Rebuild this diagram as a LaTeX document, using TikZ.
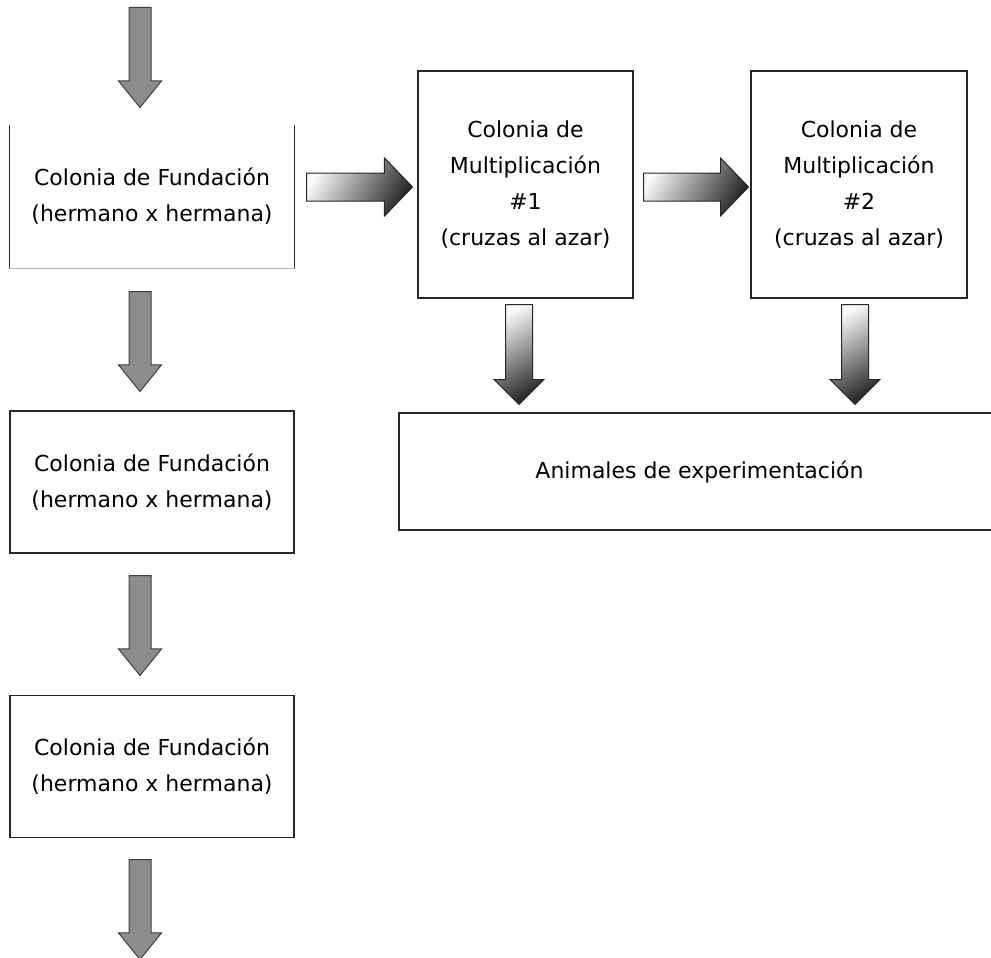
\documentclass[tikz,border=0pt]{standalone}
\usepackage{fontspec}
\setmainfont{DejaVu Sans}
\usetikzlibrary{shapes.arrows, positioning}

\begin{document}
\begin{tikzpicture}[x=1pt, y=-1pt,
  every node/.style={align=center, font=\fontsize{22}{36}\selectfont},
  fundbox/.style={rectangle, draw=black!85, line width=1.3pt,
                  minimum width=284pt, minimum height=142pt, inner sep=0pt},
  multbox/.style={rectangle, draw=black!85, line width=1.3pt,
                  minimum width=215pt, minimum height=227pt, inner sep=0pt},
  grayarr/.style={single arrow, draw=black!75, fill=black!45, line width=1pt,
                  inner sep=10.5pt, minimum height=100pt, minimum width=42pt,
                  single arrow head extend=10.5pt, single arrow tip angle=78,
                  shape border rotate=270, anchor=tail},
  shadearr/.style={single arrow, draw=black!85, line width=1pt, anchor=tail,
                   top color=gray!5, bottom color=black!85},
  rightarr/.style={shadearr, shading angle=60, inner sep=13.5pt, minimum width=57pt,
                   single arrow head extend=15pt, single arrow tip angle=92},
  downarr/.style={shadearr, shading angle=30, inner sep=13pt, minimum height=100pt,
                  minimum width=49pt, single arrow head extend=11.5pt,
                  single arrow tip angle=90, shape border rotate=270}
]
  \useasboundingbox (0,0) rectangle (991,958);

  % left column
  \node[grayarr] (a0) at (140,7) {};
  \node[fundbox, draw=none] (fund1) at (152,196.5) {Colonia de Fundación\\(hermano x hermana)};
  \draw[black!85, line width=1.3pt] (fund1.north west) -- (fund1.south west);
  \draw[black!85, line width=1.3pt] (fund1.north east) -- (fund1.south east);
  \draw[black!30, line width=1.3pt] (fund1.south west) -- (fund1.south east);
  \node[grayarr] (a1) at (140,291) {};
  \node[fundbox] (fund2) at (152,482) {Colonia de Fundación\\(hermano x hermana)};
  \node[grayarr] (a2) at (140,575) {};
  \node[fundbox] (fund3) at (152,766.5) {Colonia de Fundación\\(hermano x hermana)};
  \node[grayarr] (a3) at (140,859) {};

  % multiplication colonies
  \node[rightarr, minimum height=106pt] (h1) at (306,187) {};
  \node[multbox] (mult1) at (525.5,184.5) {Colonia de\\Multiplicación\\\#1\\(cruzas al azar)};
  \node[rightarr, minimum height=105pt] (h2) at (643,187) {};
  \node[multbox, minimum width=216pt] (mult2) at (859,184.5) {Colonia de\\Multiplicación\\\#2\\(cruzas al azar)};

  \node[downarr] (v1) at (519,304) {};
  \node[downarr] (v2) at (855,304) {};
  \node[rectangle, draw=black!85, line width=1.3pt, minimum width=601pt,
        minimum height=117pt, inner sep=0pt] (animals) at (699.5,471.5)
        {Animales de experimentación};
\end{tikzpicture}
\end{document}
